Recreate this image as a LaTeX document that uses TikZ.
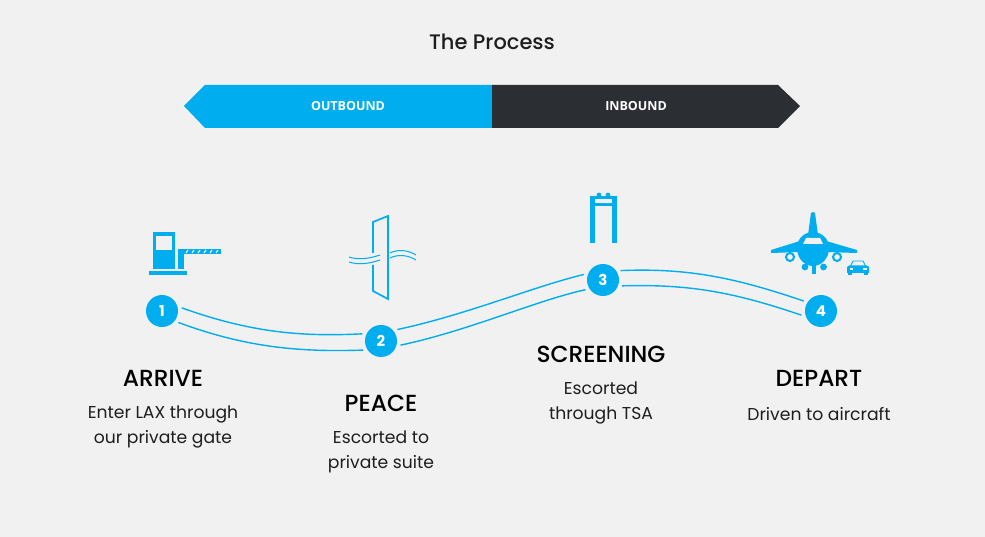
\documentclass[tikz,border=0pt]{standalone}
\usepackage{fontspec}
\setmainfont{Poppins}
\newfontfamily\headfont{Poppins Medium}
\newfontfamily\bandfont{Open Sans}
\definecolor{pageback}{HTML}{F1F1F1}
\definecolor{lineblue}{HTML}{00ADEF}
\definecolor{banddark}{HTML}{2B2F33}
\definecolor{inktext}{HTML}{1E1E1E}
\tikzset{
  stepdot/.style={circle,fill=lineblue,text=white,inner sep=0pt,minimum size=32pt,outer sep=4pt,font=\fontsize{15}{15}\selectfont\bfseries},
  trail/.style={draw=lineblue,line width=1.4pt},
  icon/.style={fill=lineblue,draw=none},
  iconline/.style={draw=lineblue,line width=1.7pt},
  steptitle/.style={text=black,font=\fontsize{23.3}{24}\selectfont\headfont},
  stepnote/.style={text=inktext,align=center,font=\fontsize{17.2}{25}\selectfont},
  bandlabel/.style={text=white,font=\fontsize{12.5}{14}\selectfont\bandfont\bfseries}
}
\begin{document}
\begin{tikzpicture}[x=1pt,y=-1pt]
  \useasboundingbox[fill=pageback] (0,0) rectangle (985,537);
  % Titel
  \node[text=inktext,font=\fontsize{21}{22}\selectfont\headfont] (title) at (492,42) {The Process};
  % Band
  \fill[lineblue] (184,106) -- (205,85) -- (492,85) -- (492,128) -- (205,128) -- cycle;
  \fill[banddark] (492,85) -- (778,85) -- (800,106) -- (778,128) -- (492,128) -- cycle;
  \node[bandlabel] (outbound) at (348,106.5) {OUTBOUND};
  \node[bandlabel] (inbound) at (636,106.5) {INBOUND};
  % Stationen
  \node[stepdot] (one) at (162,311) {1};
  \node[stepdot] (two) at (381,341) {2};
  \node[stepdot] (three) at (603,280) {3};
  \node[stepdot] (four) at (821,311) {4};
  % Wege
  \draw[trail] (one.9) .. controls +(70,25) and +(-60,3) .. (two.159);
  \draw[trail] (one.-35) .. controls +(70,26) and +(-60,2) .. (two.207);
  \draw[trail] (two.35) .. controls +(70,-15) and +(-50,12) .. (three.164);
  \draw[trail] (two.-12) .. controls +(70,-15) and +(-50,11) .. (three.209);
  \draw[trail] (three.28) .. controls +(70,-3) and +(-65,-22) .. (four.150);
  \draw[trail] (three.-17) .. controls +(70,-2) and +(-65,-22) .. (four.192);
  % Texte
  \node[steptitle] (arrive) at (163,378.5) {ARRIVE};
  \node[stepnote] (arrivenote) at (163,427) {Enter LAX through\\our private gate};
  \node[steptitle] (peace) at (381,403.5) {PEACE};
  \node[stepnote] (peacenote) at (381,452) {Escorted to\\private suite};
  \node[steptitle] (screening) at (601,354.5) {SCREENING};
  \node[stepnote] (screeningnote) at (601,403) {Escorted\\through TSA};
  \node[steptitle] (depart) at (819,378.5) {DEPART};
  \node[stepnote] (departnote) at (819,414) {Driven to aircraft};
  % Schranke
  \fill[icon] (153,232) rectangle (175,269);
  \fill[pageback] (156,236) rectangle (172,250);
  \fill[icon] (149,271) rectangle (187,275);
  \fill[icon] (178,249) rectangle (184,269);
  \fill[icon] (178,249) rectangle (221,254);
  \foreach \xpos in {186,192,...,216}
    \draw[pageback,line width=1.2pt] (\xpos,253) -- (\xpos+2,250);
  % Wand
  \draw[iconline] (373,253) -- (373,222) -- (388,216) -- (388,299) -- (373,291) -- (373,265);
  \draw[draw=lineblue,line width=1pt] (349,257) .. controls (358,260) and (368,259) .. (380,255);
  \draw[draw=lineblue,line width=1pt] (349,262) .. controls (358,265) and (368,264) .. (380,260);
  \draw[draw=lineblue,line width=1pt] (390,253) .. controls (398,249) and (408,250) .. (416,255);
  \draw[draw=lineblue,line width=1pt] (390,258) .. controls (398,254) and (408,255) .. (416,260);
  % Schleuse
  \fill[icon] (590,196) rectangle (617,206);
  \fill[pageback] (595,199) rectangle (612,203);
  \fill[icon] (590,196) rectangle (595,243);
  \fill[icon] (612,196) rectangle (617,243);
  \fill[icon] (599,195) circle (2.4pt);
  \fill[icon] (608,195) circle (2.4pt);
  % Flugzeug
  \fill[icon] (813,212) -- (815,213) -- (818,235) -- (808,235) -- (811,213) -- cycle;
  \fill[icon] (771,250) -- (800,241) -- (826,241) -- (857,250) -- (857,253) -- (826,252) -- (800,252) -- (771,253) -- cycle;
  \fill[icon] (797,248) .. controls (797,238) and (805,232) .. (813,232)
    .. controls (821,232) and (829,238) .. (829,248)
    .. controls (829,259) and (821,266) .. (813,266)
    .. controls (805,266) and (797,259) .. (797,248) -- cycle;
  \fill[pageback] (806,238) -- (820,238) -- (823,244) -- (803,244) -- cycle;
  \draw[iconline,line width=2pt] (790,257) circle (4pt);
  \draw[iconline,line width=2pt] (837,257) circle (4pt);
  \fill[icon] (805,267) circle (3.4pt);
  \fill[icon] (823.5,267) circle (3.4pt);
  \fill[icon] (812,263) rectangle (816,274);
  % Auto
  \draw[draw=lineblue,line width=0.9pt] (850,267) -- (853,261) -- (863,261) -- (866,267);
  \fill[icon] (847,267) -- (849,265.5) -- (867,265.5) -- (869,267) -- (869,273) -- (847,273) -- cycle;
  \fill[icon] (848,272) rectangle (852,275);
  \fill[icon] (864,272) rectangle (868,275);
  \fill[pageback] (849.5,268) rectangle (853,270);
  \fill[pageback] (863,268) rectangle (866.5,270);
\end{tikzpicture}
\end{document}
